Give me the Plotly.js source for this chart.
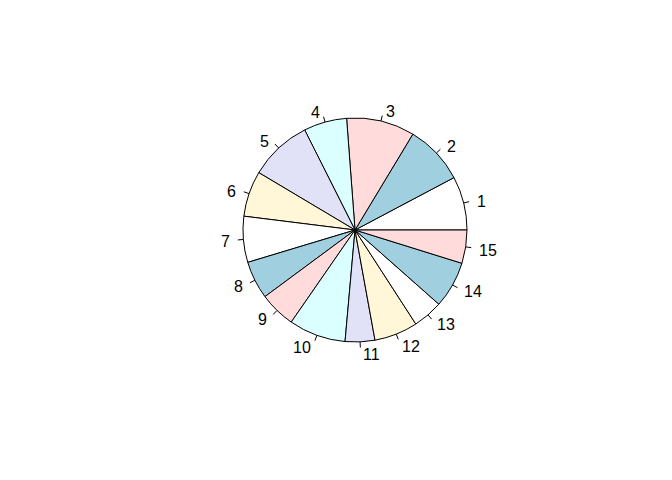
<!DOCTYPE html>
<html>
<head>
<meta charset="utf-8">
<script src="https://cdn.plot.ly/plotly-3.0.1.min.js"></script>
<style>html,body{margin:0;padding:0;background:#fff;}</style>
</head>
<body>
<div id="chart" style="width:672px;height:480px;"></div>
<script>
// Data (slice sizes in degrees)
const labels = ["1","2","3","4","5","6","7","8","9","10","11","12","13","14","15"];
const values = [27.9, 31.0, 35.4, 22.4, 32.5, 23.7, 23.9, 19.7, 18.8, 29.6, 15.4, 22.6, 15.6, 24.2, 17.3];
const palette = ["#FFFFFF", "#A0CFE0", "#FFDCDB", "#DBFFFF", "#E1E1F8", "#FFF7D7"];

// Layout geometry
const W = 672, H = 480;
const cx = 355, cy = 230, R = 112;

const colors = labels.map((_, i) => palette[i % palette.length]);
const total = values.reduce((a, b) => a + b, 0);

const shapes = [];
const annotations = [];
let cum = 0;
values.forEach((v, i) => {
  const mid = (cum + v / 2) / total * 2 * Math.PI;
  cum += v;
  const c = Math.cos(mid), s = Math.sin(mid);
  const px = (rr) => (cx + rr * c) / W;
  const py = (rr) => 1 - (cy - rr * s) / H;
  shapes.push({
    type: "line", xref: "paper", yref: "paper",
    x0: px(R), y0: py(R), x1: px(R * 1.05), y1: py(R * 1.05),
    line: {color: "#000", width: 1}
  });
  annotations.push({
    xref: "paper", yref: "paper", x: px(R * 1.1), y: py(R * 1.1),
    text: labels[i], showarrow: false,
    xanchor: c < 0 ? "right" : "left", yanchor: "middle",
    yshift: -1.5,
    font: {family: "Liberation Sans, Arial, sans-serif", size: 16, color: "#000"}
  });
});

// Plotly places the first slice clockwise of `rotation` when counterclockwise,
// so shift so that slice 1 starts at 3 o'clock and runs counterclockwise.
const rotation = 90 - values[0] / total * 360;

const trace = {
  type: "pie",
  labels: labels,
  values: values,
  sort: false,
  direction: "counterclockwise",
  rotation: rotation,
  textinfo: "none",
  hoverinfo: "none",
  showlegend: false,
  marker: {colors: colors, line: {color: "#000", width: 1}},
  domain: {x: [(cx - R) / W, (cx + R) / W], y: [1 - (cy + R) / H, 1 - (cy - R) / H]}
};

const layout = {
  width: W, height: H,
  margin: {l: 0, r: 0, t: 0, b: 0},
  paper_bgcolor: "#fff",
  showlegend: false,
  shapes: shapes,
  annotations: annotations
};

Plotly.newPlot("chart", [trace], layout, {displayModeBar: false, staticPlot: true});
</script>
</body>
</html>
